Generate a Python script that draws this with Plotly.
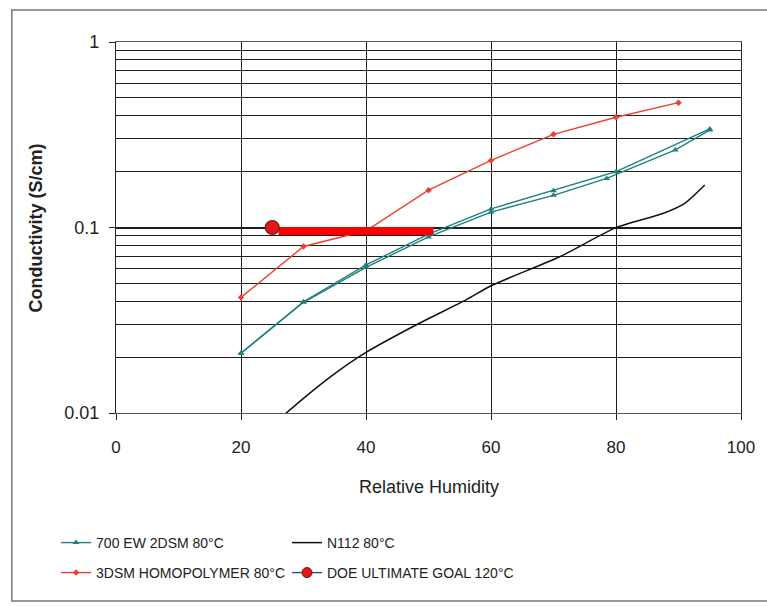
import plotly.graph_objects as go

# ---- data ----
ew700_a_x = [20, 30, 40, 50, 60, 70, 80, 95]
ew700_a_y = [0.021, 0.0398, 0.0628, 0.092, 0.126, 0.158, 0.200, 0.340]
ew700_b_x = [20, 30, 40, 50, 60, 70, 78.5, 89.5, 95]
ew700_b_y = [0.021, 0.0395, 0.061, 0.089, 0.121, 0.149, 0.184, 0.262, 0.335]

homo_x = [20, 30, 40, 50, 60, 70, 80, 90]
homo_y = [0.042, 0.079, 0.096, 0.159, 0.230, 0.318, 0.393, 0.471]

n112_x = [26, 30, 35, 40, 48, 56, 60, 71, 80, 87.5, 91, 94.2]
n112_y = [0.0092, 0.0120, 0.0163, 0.0212, 0.0298, 0.0407, 0.0485, 0.0696, 0.0998, 0.119, 0.135, 0.1695]

doe_x = [25]
doe_y = [0.1]
doe_bar_x = [26.0, 50.8]
doe_bar_y = [0.0958, 0.0958]

x_ticks = [0, 20, 40, 60, 80, 100]
y_ticks = [0.01, 0.1, 1]
y_tick_text = ["0.01", "0.1", "1"]
y_minor = [0.02, 0.03, 0.04, 0.05, 0.06, 0.07, 0.08, 0.09,
           0.2, 0.3, 0.4, 0.5, 0.6, 0.7, 0.8, 0.9]

TEAL = "#1f7f7f"
RED = "#ee4030"
FONT = "Liberation Sans, Arial, sans-serif"

W, H = 767, 606
L, R, T, B = 116, 15, 42, 193
PW, PH = W - L - R, H - T - B


def px_x(px):
    return (px - L) / PW


def px_y(py):
    return (H - B - py) / PH


fig = go.Figure()

fig.add_trace(go.Scatter(
    x=ew700_a_x, y=ew700_a_y, mode="lines+markers", name="700 EW 2DSM 80°C",
    line=dict(color=TEAL, width=1.4), marker=dict(symbol="triangle-up", size=6, color=TEAL),
    legend="legend"))
fig.add_trace(go.Scatter(
    x=ew700_b_x, y=ew700_b_y, mode="lines+markers", name="700 EW 2DSM 80°C (b)",
    line=dict(color=TEAL, width=1.4), marker=dict(symbol="triangle-up", size=6, color=TEAL),
    showlegend=False))
fig.add_trace(go.Scatter(
    x=homo_x, y=homo_y, mode="lines+markers", name="3DSM HOMOPOLYMER 80°C",
    line=dict(color=RED, width=1.4), marker=dict(symbol="diamond", size=5, color=RED),
    legend="legend2"))
fig.add_trace(go.Scatter(
    x=n112_x, y=n112_y, mode="lines", name="N112 80°C",
    line=dict(color="#111111", width=1.5, shape="spline", smoothing=0.6),
    legend="legend3"))
fig.add_trace(go.Scatter(
    x=doe_bar_x, y=doe_bar_y, mode="lines", name="goal bar",
    line=dict(color="#ff0000", width=8), showlegend=False))
fig.add_trace(go.Scatter(
    x=doe_x, y=doe_y, mode="markers", name="DOE ULTIMATE GOAL 120°C",
    marker=dict(symbol="circle", size=14, color="#e01818", line=dict(color="#7a1010", width=1.2)),
    cliponaxis=False, showlegend=False))
# legend entry for the goal (smaller symbol, as in the original legend)
fig.add_trace(go.Scatter(
    x=[None], y=[None], mode="lines+markers", name="DOE ULTIMATE GOAL 120°C",
    line=dict(color="#3a4a8a", width=1.4),
    marker=dict(symbol="circle", size=10, color="#e01818", line=dict(color="#7a1010", width=1)),
    legend="legend4"))

grid_col = "#1e1e1e"

fig.update_xaxes(
    range=[0, 100], tickvals=x_ticks, ticks="outside", ticklen=6, tickcolor="#222",
    showgrid=True, gridcolor=grid_col, gridwidth=1.4, zeroline=False,
    showline=True, linecolor="#555", linewidth=1.3, mirror=True,
    tickfont=dict(family=FONT, size=17, color="#222"), ticklabelstandoff=12,
)
fig.update_yaxes(
    type="log", range=[-2, 0], tickvals=y_ticks, ticktext=y_tick_text,
    ticks="outside", ticklen=6, tickcolor="#222",
    showgrid=True, gridcolor=grid_col, gridwidth=1.6,
    minor=dict(tickvals=y_minor, showgrid=True, gridcolor=grid_col, gridwidth=1.4, ticks=""),
    showline=True, linecolor="#222", linewidth=1.4, mirror=True,
    tickfont=dict(family=FONT, size=18, color="#222"), ticklabelstandoff=6,
)

leg_common = dict(bgcolor="rgba(0,0,0,0)", borderwidth=0, xanchor="left", yanchor="middle",
                  font=dict(family=FONT, size=14, color="#222"))
col1_x = px_x(55)
col2_x = px_x(290)
row1_y = px_y(543)
row2_y = px_y(573)

fig.update_layout(
    width=W, height=H,
    margin=dict(l=L, r=R, t=T, b=B, pad=0),
    paper_bgcolor="white", plot_bgcolor="white",
    font=dict(family=FONT, color="#222"),
    legend=dict(x=col1_x, y=row1_y, **leg_common),
    legend2=dict(x=col1_x, y=row2_y, **leg_common),
    legend3=dict(x=col2_x, y=row1_y, **leg_common),
    legend4=dict(x=col2_x, y=row2_y, **leg_common),
    annotations=[
        dict(text="<b>Conductivity (S/cm)</b>", xref="paper", yref="paper",
             x=px_x(35), y=px_y(228), textangle=-90, showarrow=False,
             font=dict(family=FONT, size=18, color="#222"), xanchor="center", yanchor="middle"),
        dict(text="Relative Humidity", xref="paper", yref="paper",
             x=px_x(434), y=px_y(487), showarrow=False,
             font=dict(family=FONT, size=18, color="#222"), xanchor="center", yanchor="middle"),
    ],
    shapes=[
        dict(type="rect", xref="paper", yref="paper",
             x0=px_x(10), x1=px_x(790), y0=px_y(601), y1=px_y(10),
             line=dict(color="#777", width=1.5), fillcolor="rgba(0,0,0,0)", layer="below"),
    ],
    showlegend=True,
)

fig.write_html("out.html")
